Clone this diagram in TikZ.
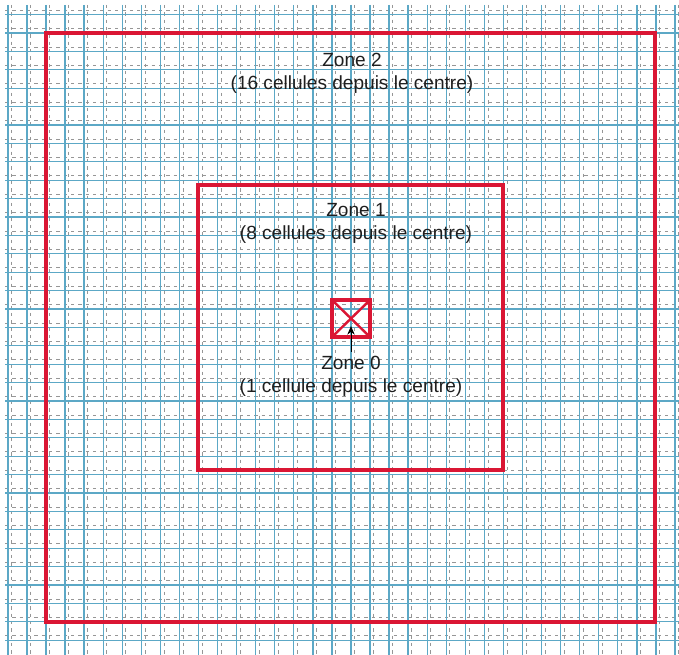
\documentclass[tikz,border=0pt]{standalone}
\usepackage{fontspec}
\setmainfont{Liberation Sans}
\usepackage{tikz}
\usetikzlibrary{arrows.meta, positioning}
\definecolor{GridBlue}{RGB}{92, 168, 198}
\definecolor{GridGrey}{RGB}{150, 150, 150}
\definecolor{ZoneRed}{RGB}{218, 22, 52}
\definecolor{LabelDark}{RGB}{30, 30, 30}

\begin{document}
\begin{tikzpicture}[x=0.75pt, y=-0.75pt,
    gridline/.style={GridBlue, line width=1pt},
    gridhelp/.style={GridGrey, line width=0.4pt, dash pattern=on 2.5pt off 3pt},
    zonebox/.style={ZoneRed, line width=3.6pt},
    zonelabel/.style={align=center, text=LabelDark,
      font=\fontsize{14.3}{17.25}\selectfont}]
  \path[use as bounding box] (0,0) rectangle (679,655);
  \fill[white] (0,0) rectangle (679,655);

  % Grille de cellules
  \foreach \k in {-2,...,33}
    \draw[gridhelp] ({49.5+19.06*\k},5) -- ({49.5+19.06*\k},655);
  \foreach \k in {-1,...,33}
    \draw[gridhelp] (5,{28.5+18.4*\k}) -- (679,{28.5+18.4*\k});
  \foreach \k in {-2,...,33}
    \draw[gridline] ({46+19.06*\k},5) -- ({46+19.06*\k},655);
  \foreach \k in {-1,...,33}
    \draw[gridline] (5,{33+18.4*\k}) -- (679,{33+18.4*\k});

  % Zone 2
  \draw[zonebox] (46,33) rectangle (655,622);
  \node[zonelabel] (zone2) at (352,73.5) {Zone 2\\(16 cellules depuis le centre)};

  % Zone 1
  \draw[zonebox] (198,185) rectangle (503,470);
  \node[zonelabel] (zone1) at (356,223.5) {Zone 1\\(8 cellules depuis le centre)};

  % Zone 0
  \draw[zonebox, line width=3pt] (332,300) rectangle (370,337);
  \draw[ZoneRed, line width=1.8pt] (332,300) -- (370,337) (332,337) -- (370,300);
  \coordinate (pointe) at (351,326);
  \node[zonelabel] (zone0) at (351,376.7) {Zone 0\\(1 cellule depuis le centre)};
  \draw[black, line width=0.6pt, -{Stealth[length=6.5pt, width=5.5pt]}] (zone0.north) -- (pointe);
\end{tikzpicture}
\end{document}
